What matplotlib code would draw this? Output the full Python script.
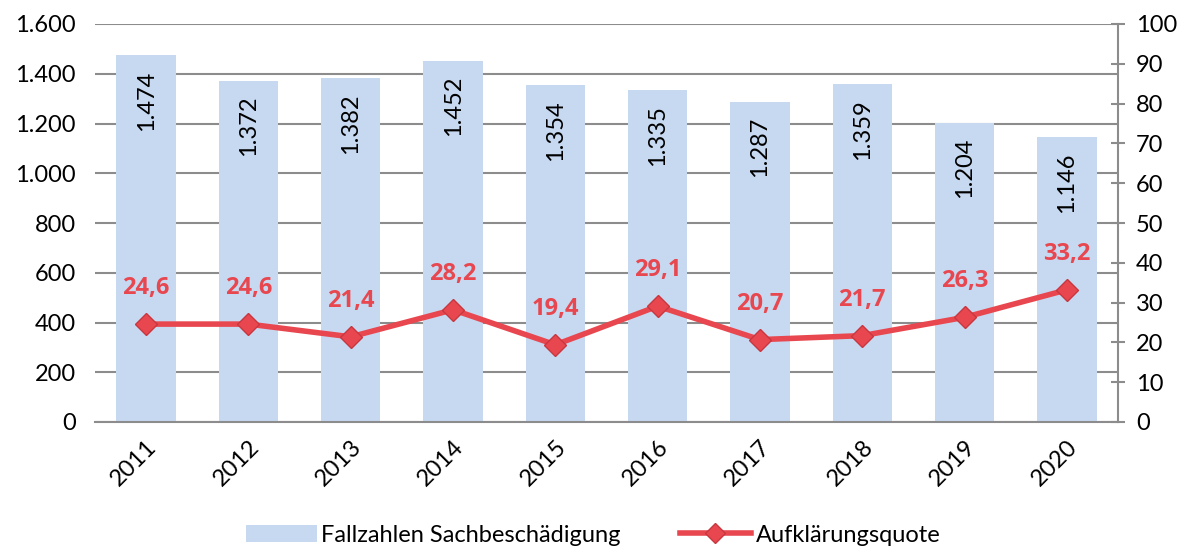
import matplotlib
matplotlib.use("Agg")
import matplotlib.pyplot as plt
from matplotlib.lines import Line2D
from matplotlib.patches import Patch

years = ["2011", "2012", "2013", "2014", "2015", "2016", "2017", "2018", "2019", "2020"]
cases = [1474, 1372, 1382, 1452, 1354, 1335, 1287, 1359, 1204, 1146]
rate = [24.6, 24.6, 21.4, 28.2, 19.4, 29.1, 20.7, 21.7, 26.3, 33.2]

BAR_COLOR = "#c6d9f1"
RED = "#e8474f"
GRID = "#8c8c8c"
FS = 17

plt.rcParams["font.family"] = ["Lato", "DejaVu Sans"]


def de_num(v):
    return f"{v:,.0f}".replace(",", ".")


fig = plt.figure(figsize=(11.86, 5.53), dpi=100)
ax = fig.add_axes([95 / 1186, 1 - 422 / 553, (1118 - 95) / 1186, (422 - 24) / 553])
ax2 = ax.twinx()

x = list(range(len(years)))
ax.bar(x, cases, width=0.58, color=BAR_COLOR, zorder=2)
for xi, c in zip(x, cases):
    ax.annotate(de_num(c), (xi, c), xytext=(0, -11), textcoords="offset points",
                rotation=90, ha="center", va="top", fontsize=FS, color="black", zorder=3)

ax.set_xlim(-0.5, len(years) - 0.5)
ax.set_ylim(0, 1600)
ax.set_yticks(range(0, 1601, 200))
ax.set_yticklabels([de_num(v) for v in range(0, 1601, 200)], fontsize=FS)
ax.yaxis.grid(True, color=GRID, linewidth=1.5, zorder=0)
ax.set_axisbelow(True)
ax.tick_params(axis="y", length=0, pad=14)
ax.set_xticks(x)
ax.set_xticklabels(years, rotation=45, ha="right", rotation_mode="anchor", fontsize=FS)
ax.tick_params(axis="x", length=0, pad=10)
for s in ["left", "top", "right"]:
    ax.spines[s].set_visible(False)
ax.spines["bottom"].set_color(GRID)
ax.spines["bottom"].set_linewidth(1.5)

ax2.plot(x, rate, color=RED, linewidth=4, marker="D", markersize=11,
         markerfacecolor=RED, markeredgecolor="#c8373f", zorder=5)
for xi, r in zip(x, rate):
    ax2.annotate(f"{r:.1f}".replace(".", ","), (xi, r), xytext=(0, 26),
                 textcoords="offset points", ha="center", va="center",
                 fontsize=17, fontweight="bold", color=RED,
                 family=["Open Sans", "DejaVu Sans"])
ax2.set_ylim(0, 100)
ax2.set_yticks(range(0, 101, 10))
ax2.tick_params(axis="y", labelsize=FS, direction="inout", length=10, width=1.5,
                color=GRID, pad=8)
for s in ["left", "top", "bottom"]:
    ax2.spines[s].set_visible(False)
ax2.spines["right"].set_color(GRID)
ax2.spines["right"].set_linewidth(1.5)

handles = [
    Patch(facecolor=BAR_COLOR, edgecolor="none"),
    Line2D([0], [0], color=RED, linewidth=4, marker="D", markersize=10,
           markerfacecolor=RED, markeredgecolor="#c8373f"),
]
fig.legend(handles, ["Fallzahlen Sachbeschädigung", "Aufklärungsquote"],
           loc="lower center", bbox_to_anchor=(0.5, -0.025), ncol=2, frameon=False,
           fontsize=FS, handlelength=3.0, handletextpad=0.2, columnspacing=2.5)

fig.savefig("out.png", dpi=100)
